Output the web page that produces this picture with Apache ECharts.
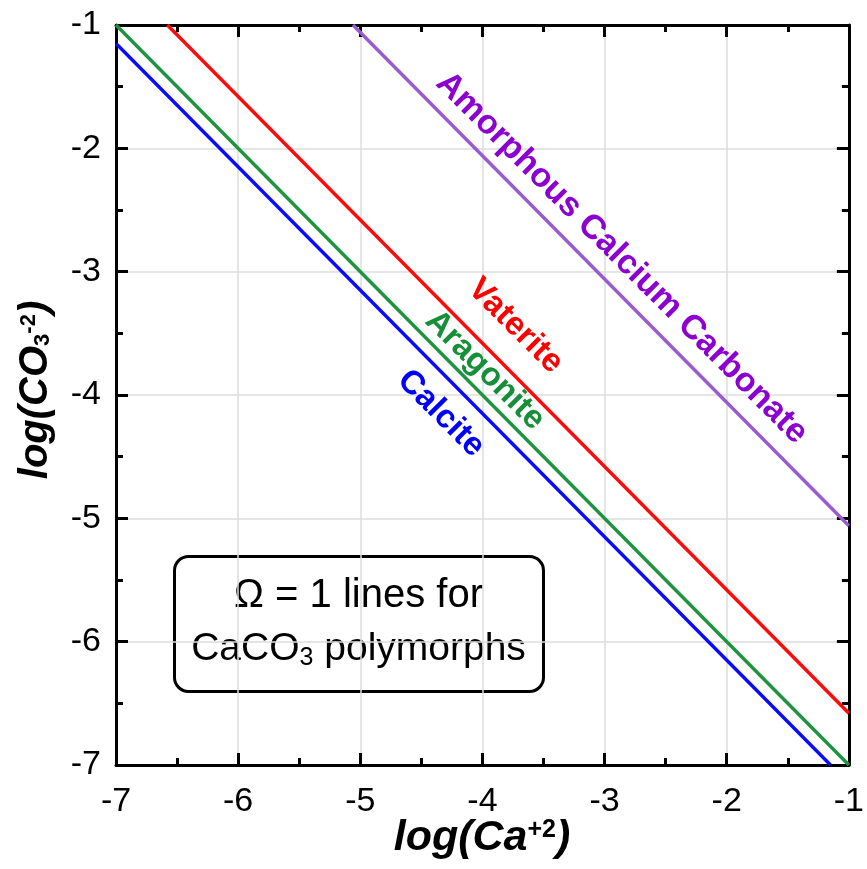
<!DOCTYPE html>
<html>
<head>
<meta charset="utf-8">
<script src="https://cdn.jsdelivr.net/npm/echarts@6/dist/echarts.min.js"></script>
<style>
  html, body { margin: 0; padding: 0; background: #ffffff; }
  #chart { width: 867px; height: 869px; }
</style>
</head>
<body>
<div id="chart"></div>
<script>
// Saturation (Omega = 1) lines for the CaCO3 polymorphs, log(CO3) vs log(Ca)
const axisMin = -7;
const axisMax = -1;
const axisTicks = [-7, -6, -5, -4, -3, -2, -1];

// Endpoints of each line where it meets the plot frame
const calciteLine   = [[-7, -1.15], [-1.15, -7]];
const aragoniteLine = [[-7, -1.0], [-1.0, -7]];
const vateriteLine  = [[-6.58, -1], [-1, -6.58]];
const accLine       = [[-5.06, -1], [-1, -5.06]];

// Name of each polymorph and where its name sits along its line
const polymorphNames = ['Calcite', 'Aragonite', 'Vaterite', 'Amorphous Calcium Carbonate'];
const namePositions  = [[-4.34, -4.15], [-3.98, -3.80], [-3.73, -3.44], [-2.86, -2.89]];

const lineColors = ['#0a0aff', '#1f9440', '#ff0a0a', '#9a5ad0'];
const nameColors = ['#0000ff', '#159038', '#ff0000', '#8c00d0'];
const lineData = [calciteLine, aragoniteLine, vateriteLine, accLine];

const FONT = 'Liberation Sans';
const TICK_FONT_SIZE = 34;

const chart = echarts.init(document.getElementById('chart'), null, { renderer: 'canvas' });

function frameAxis(position, showLabels) {
  return {
    type: 'value',
    position: position,
    min: axisMin,
    max: axisMax,
    interval: 1,
    axisLine: { show: true, onZero: false, lineStyle: { color: '#000', width: 3 } },
    axisTick: { show: true, inside: true, length: 12, lineStyle: { color: '#000', width: 3 } },
    minorTick: { show: true, splitNumber: 2, length: 7, lineStyle: { color: '#000', width: 3 } },
    splitLine: { show: showLabels, lineStyle: { color: '#dcdcdc', width: 1.5 } },
    axisLabel: {
      show: showLabels,
      color: '#000',
      margin: 15,
      formatter: v => (axisTicks.indexOf(v) >= 0 ? '{n|' + v + '}' : ''),
      rich: {
        n: { fontFamily: FONT, fontSize: TICK_FONT_SIZE, color: '#000' }
      }
    }
  };
}

const xBottom = frameAxis('bottom', true);
xBottom.axisLabel.margin = 20;
const yLeft = frameAxis('left', true);

const lineSeries = lineData.map((pts, i) => ({
  type: 'line',
  name: polymorphNames[i],
  data: pts,
  symbol: 'none',
  silent: true,
  z: 3,
  lineStyle: { color: lineColors[i], width: 3.4 }
}));

const nameSeries = polymorphNames.map((name, i) => ({
  type: 'scatter',
  data: [namePositions[i]],
  symbolSize: 0,
  silent: true,
  z: 4,
  itemStyle: { opacity: 1, color: nameColors[i] },
  label: {
    show: true,
    position: 'inside',
    formatter: name,
    rotate: -45,
    align: 'center',
    verticalAlign: 'middle',
    fontFamily: FONT,
    fontWeight: 'bold',
    fontSize: i === 3 ? 34 : 33,
    color: nameColors[i],
    opacity: 1,
    textBorderWidth: 0
  }
}));

chart.setOption({
  backgroundColor: '#ffffff',
  animation: false,
  grid: { left: 116, right: 13, top: 25, bottom: 104, containLabel: false },
  xAxis: [xBottom, frameAxis('top', false)],
  yAxis: [yLeft, frameAxis('right', false)],
  series: lineSeries.concat(nameSeries),
  graphic: [
    {
      type: 'text',
      x: 482, y: 838,
      style: {
        text: '{t|log(Ca}{sup|+2}{t|)}',
        align: 'center',
        verticalAlign: 'middle',
        fill: '#000',
        rich: {
          t:   { fontFamily: FONT, fontWeight: 'bold', fontStyle: 'italic', fontSize: 43, lineHeight: 46, fill: '#000' },
          sup: { fontFamily: FONT, fontWeight: 'bold', fontSize: 25, lineHeight: 46, padding: [0, 0, 15, 0], fill: '#000' }
        }
      }
    },
    {
      type: 'text',
      x: 36, y: 390,
      rotation: Math.PI / 2,
      style: {
        text: '{t|log(CO}{sub|3}{sup|-2}{t|)}',
        align: 'center',
        verticalAlign: 'middle',
        fill: '#000',
        rich: {
          t:   { fontFamily: FONT, fontWeight: 'bold', fontStyle: 'italic', fontSize: 40, lineHeight: 44, fill: '#000' },
          sub: { fontFamily: FONT, fontWeight: 'bold', fontSize: 22, lineHeight: 44, padding: [14, 0, 0, 0], fill: '#000' },
          sup: { fontFamily: FONT, fontWeight: 'bold', fontSize: 22, lineHeight: 44, padding: [0, 0, 14, 0], fill: '#000' }
        }
      }
    },
    {
      type: 'group',
      left: 173, top: 555,
      children: [
        {
          type: 'rect',
          shape: { x: 0, y: 0, width: 369, height: 135, r: 14 },
          style: { fill: '#ffffff', stroke: '#000', lineWidth: 3 }
        },
        {
          type: 'text',
          x: 184, y: 39,
          style: {
            text: 'Ω = 1 lines for',
            align: 'center', verticalAlign: 'middle',
            font: '40px "Liberation Sans", Arial, sans-serif',
            fill: '#000'
          }
        },
        {
          type: 'text',
          x: 184, y: 93,
          style: {
            text: '{t|CaCO}{sub|3}{t| polymorphs}',
            align: 'center', verticalAlign: 'middle',
            fill: '#000',
            rich: {
              t:   { fontFamily: FONT, fontSize: 39, lineHeight: 44, fill: '#000' },
              sub: { fontFamily: FONT, fontSize: 25, lineHeight: 44, padding: [18, 0, 0, 0], fill: '#000' }
            }
          }
        }
      ]
    }
  ]
});
</script>
</body>
</html>
